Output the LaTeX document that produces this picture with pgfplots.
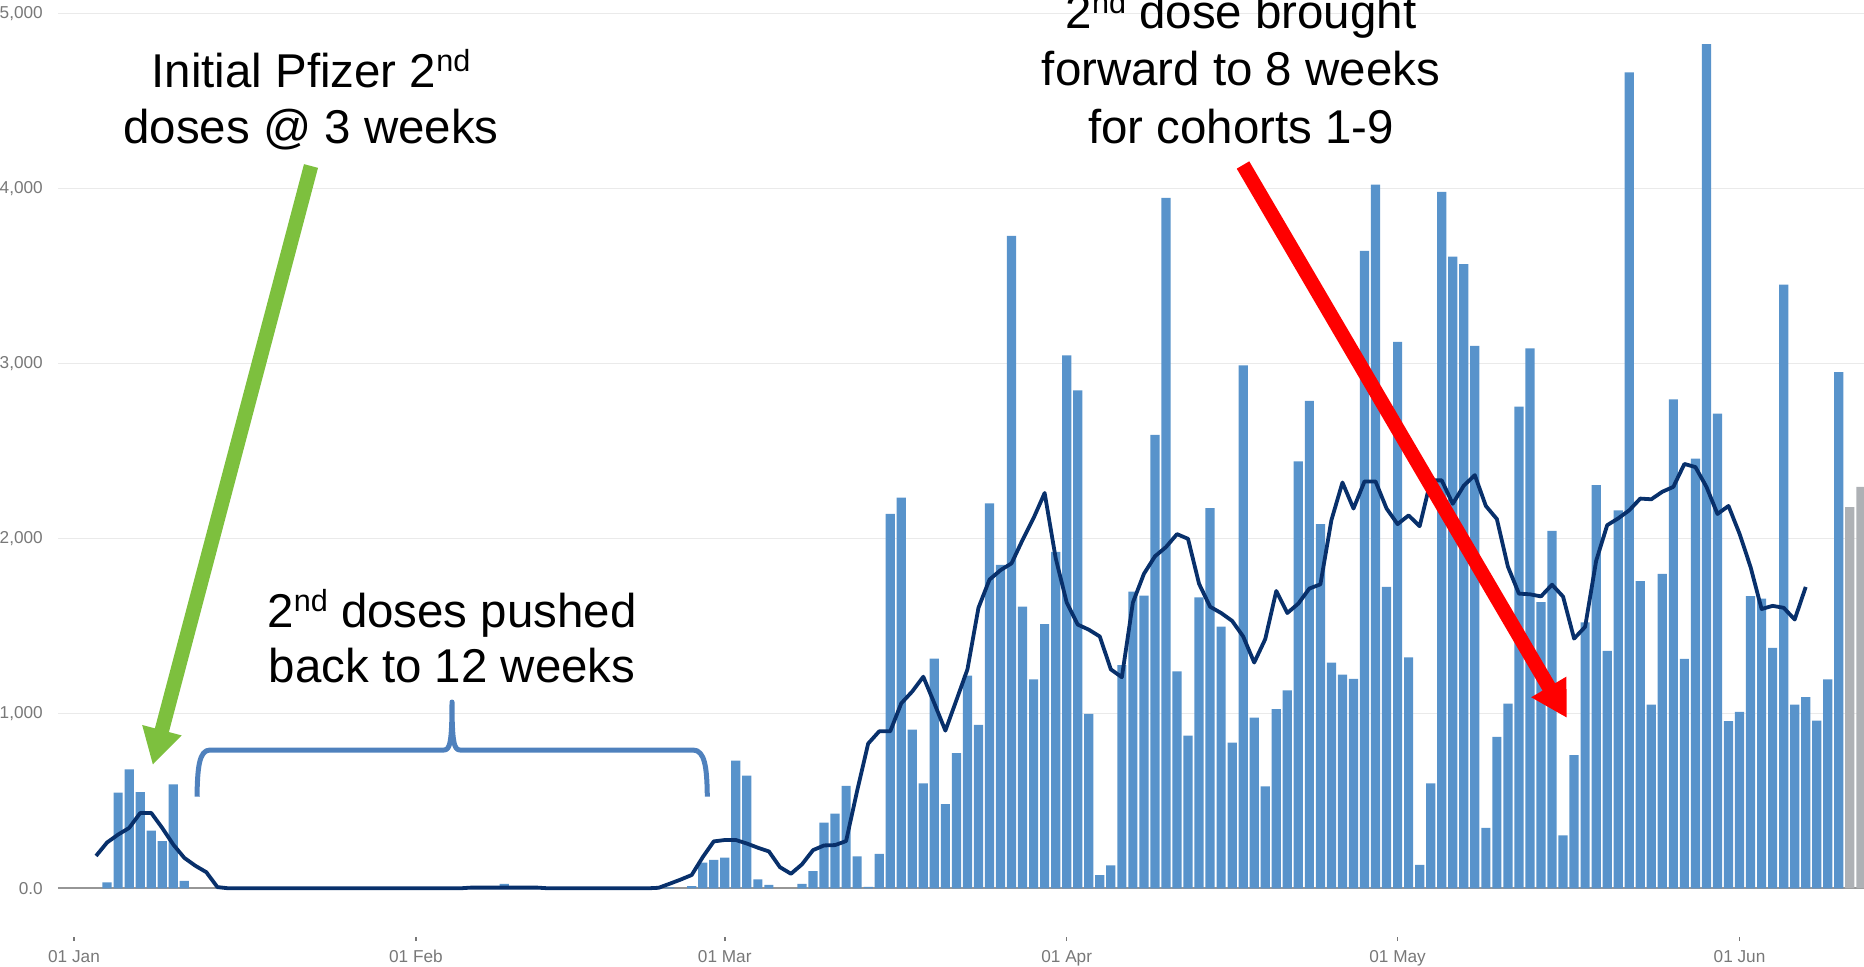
\documentclass[border=0pt]{standalone}
\usepackage{pgfplots}
\usepackage{pgfplotstable}
\pgfplotsset{compat=1.18}
\usepackage{fontspec}
\setmainfont{Liberation Sans}
\usetikzlibrary{arrows.meta}
\definecolor{barblue}{RGB}{88,147,203}
\definecolor{bargray}{RGB}{174,177,181}
\definecolor{navy}{RGB}{8,48,107}
\definecolor{gridc}{RGB}{234,234,234}
\definecolor{basec}{RGB}{150,150,150}
\definecolor{tickc}{RGB}{120,120,120}
\definecolor{agreen}{RGB}{125,192,62}
\definecolor{bracec}{RGB}{79,129,189}
\newcommand{\sups}[1]{\raisebox{0.33em}{\fontsize{8.7pt}{9pt}\selectfont #1}}
\newcommand{\bigf}{\fontsize{13.5pt}{16pt}\selectfont}

% daily doses (day 0 = 01 Jan)
\pgfplotstableread{
d v
3 34
4 547
5 680
6 550
7 330
8 269
9 594
10 42
39 25
54 5
56 13
57 147
58 162
59 175
60 730
61 644
62 51
63 19
66 25
67 98
68 375
69 427
70 586
71 183
72 8
73 197
74 2140
75 2233
76 907
77 600
78 1313
79 481
80 773
81 1215
82 934
83 2200
84 1848
85 3728
86 1609
87 1194
88 1510
89 1922
90 3045
91 2845
92 997
93 75
94 131
95 1275
96 1696
97 1672
98 2591
99 3946
100 1239
101 872
102 1663
103 2173
104 1496
105 833
106 2988
107 976
108 582
109 1024
110 1131
111 2439
112 2785
113 2081
114 1290
115 1221
116 1197
117 3642
118 4021
119 1722
120 3122
121 1319
122 134
123 600
124 3979
125 3609
126 3567
127 3099
128 346
129 866
130 1055
131 2753
132 3085
133 1636
134 2042
135 303
136 761
137 1519
138 2304
139 1357
140 2160
141 4662
142 1755
143 1050
144 1797
145 2794
146 1311
147 2456
148 4824
149 2713
150 955
151 1008
152 1670
153 1656
154 1374
155 3450
156 1050
157 1092
158 958
159 1194
160 2949
}\bars

% 7-day average
\pgfplotstableread{
d v
2 185
3 262
4 307
5 345
6 430
7 431
8 345
9 250
10 174
11 129
12 92
13 7
14 0
35 0
36 4
42 4
43 0
52 0
53 3
54 26
55 50
56 76
57 178
58 268
59 276
60 276
61 256
62 232
63 211
64 121
65 83
66 137
67 218
68 245
69 247
70 270
71 557
72 827
73 897
74 897
75 1057
76 1125
77 1209
78 1057
79 901
80 1075
81 1251
82 1603
83 1764
84 1818
85 1857
86 1991
87 2116
88 2259
89 1887
90 1633
91 1507
92 1478
93 1439
94 1251
95 1206
96 1633
97 1797
98 1897
99 1950
100 2024
101 1997
102 1740
103 1609
104 1573
105 1528
106 1439
107 1290
108 1424
109 1699
110 1573
111 1627
112 1713
113 1737
114 2104
115 2319
116 2170
117 2325
118 2325
119 2170
120 2081
121 2131
122 2069
123 2331
124 2331
125 2197
126 2301
127 2361
128 2185
129 2110
130 1838
131 1684
132 1680
133 1668
134 1735
135 1667
136 1427
137 1494
138 1871
139 2075
140 2114
141 2160
142 2227
143 2223
144 2266
145 2294
146 2425
147 2407
148 2294
149 2139
150 2185
151 2026
152 1836
153 1596
154 1614
155 1603
156 1536
157 1722
}\avg

\begin{document}
\begin{tikzpicture}
\useasboundingbox (0,0) rectangle (186.4mm,96.6mm);
\clip (0,0) rectangle (186.4mm,96.6mm);
\begin{axis}[
  at={(5.8mm,2.95mm)}, anchor=south west,
  scale only axis, width=180.6mm, height=93.65mm,
  xmin=-1.4506, xmax=162.285, ymin=-275.4, ymax=5076,
  axis line style={draw=none},
  xtick={0,31,59,90,120,151},
  xticklabels={01 Jan,01 Feb,01 Mar,01 Apr,01 May,01 Jun},
  ytick={0,1000,2000,3000,4000,5000},
  yticklabels={0.0,{1,000},{2,000},{3,000},{4,000},{5,000}},
  tick pos=left,
  tick align=outside,
  major tick length=0.45mm,
  xtick style={draw=tickc, line width=0.15mm},
  ytick style={draw=none},
  ymajorgrids, grid style={draw=gridc, line width=0.15mm},
  tick label style={font=\fontsize{4.9pt}{5.5pt}\selectfont, text=tickc},
  /pgf/number format/assume math mode=true,
  xticklabel style={anchor=base, inner sep=0pt, yshift=-2.15mm},
  yticklabel style={anchor=east, inner sep=0pt, xshift=-1.0mm},
]
\draw[basec, line width=0.2mm] (axis cs:-1.4506,0) -- (axis cs:162.285,0);
\addplot[ybar, bar width=0.92mm, bar shift=0pt, fill=barblue, draw=none] table[x=d,y=v]{\bars};
\addplot[ybar, bar width=0.92mm, bar shift=0pt, fill=bargray, draw=none] coordinates {(161,2178) (162,2294)};
\addplot[navy, line width=0.38mm, line join=round, mark=none] table[x=d,y=v]{\avg};
\end{axis}

% annotations
\node[anchor=base, inner sep=0pt, font=\bigf] at (31.1mm,87.87mm) {Initial Pfizer 2\sups{nd}};
\node[anchor=base, inner sep=0pt, font=\bigf] at (31.1mm,82.2mm) {doses @ 3 weeks};
\node[anchor=base, inner sep=0pt, font=\bigf] at (124.1mm,93.7mm) {2\sups{nd} dose brought};
\node[anchor=base, inner sep=0pt, font=\bigf] at (124.1mm,88.0mm) {forward to 8 weeks};
\node[anchor=base, inner sep=0pt, font=\bigf] at (124.1mm,82.3mm) {for cohorts 1-9};
\node[anchor=base, inner sep=0pt, font=\bigf] at (45.2mm,33.9mm) {2\sups{nd} doses pushed};
\node[anchor=base, inner sep=0pt, font=\bigf] at (45.2mm,28.4mm) {back to 12 weeks};

\draw[agreen, line width=1.45mm, -{Triangle[length=3.6mm,width=3.8mm]}] (31.1mm,80.0mm) -- (15.27mm,20.1mm);
\draw[red, line width=1.45mm, -{Triangle[length=3.6mm,width=3.8mm]}] (124.3mm,80.1mm) -- (156.7mm,24.8mm);

\draw[bracec, line width=0.5mm, line join=round]
  (19.7mm,16.93mm) .. controls (19.75mm,19.8mm) and (19.9mm,21.6mm) .. (21.0mm,21.6mm)
  -- (44.4mm,21.6mm) .. controls (45.0mm,21.6mm) and (45.2mm,22.4mm) .. (45.2mm,26.4mm)
  .. controls (45.2mm,22.4mm) and (45.4mm,21.6mm) .. (46.0mm,21.6mm)
  -- (69.3mm,21.6mm) .. controls (70.5mm,21.6mm) and (70.7mm,19.8mm) .. (70.73mm,16.93mm);
\end{tikzpicture}
\end{document}
